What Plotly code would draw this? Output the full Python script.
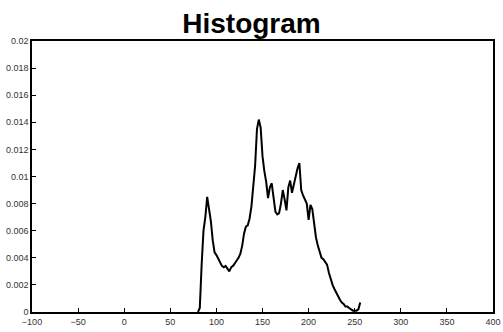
import plotly.graph_objects as go

bin_x = list(range(80, 258, 2))
density = [
    0.0000, 0.0003, 0.0035, 0.0060, 0.0070, 0.0085, 0.0076, 0.0067, 0.0053, 0.0044,
    0.0042, 0.0039, 0.0037, 0.0034, 0.0033, 0.0034, 0.0032, 0.0030, 0.0033, 0.0034,
    0.0036, 0.0038, 0.0040, 0.0043, 0.0049, 0.0058, 0.0063, 0.0064, 0.0069, 0.0078,
    0.0091, 0.0108, 0.0135, 0.0142, 0.0136, 0.0115, 0.0104, 0.0096, 0.0084, 0.0092,
    0.0095, 0.0086, 0.0074, 0.0072, 0.0073, 0.0080, 0.0090, 0.0083, 0.0075, 0.0092,
    0.0097, 0.0088, 0.0094, 0.0101, 0.0106, 0.0110, 0.0090, 0.0086, 0.0083, 0.0080,
    0.0068, 0.0079, 0.0076, 0.0063, 0.0055, 0.0049, 0.0044, 0.0040, 0.0039, 0.0037,
    0.0035, 0.0029, 0.0024, 0.0020, 0.0017, 0.0014, 0.0011, 0.0009, 0.0007, 0.0006,
    0.0004, 0.0004, 0.0003, 0.0002, 0.0001, 0.0001, 0.0001, 0.0002, 0.0007,
]

x_ticks = [-100, -50, 0, 50, 100, 150, 200, 250, 300, 350, 400]
y_ticks = [0, 0.002, 0.004, 0.006, 0.008, 0.01, 0.012, 0.014, 0.016, 0.018, 0.02]
y_tick_text = ["0", "0.002", "0.004", "0.006", "0.008", "0.01", "0.012", "0.014", "0.016", "0.018", "0.02"]

fig = go.Figure(go.Scatter(
    x=bin_x, y=density, mode="lines",
    line=dict(color="black", width=2),
    showlegend=False,
))

axis_common = dict(
    showline=True, mirror=True, linecolor="black", linewidth=1.5,
    ticks="inside", ticklen=4, tickcolor="black", tickwidth=1,
    showgrid=False, zeroline=False, automargin=False,
    tickfont=dict(family="Liberation Sans", size=9, color="#333333"),
)

fig.update_layout(
    width=503, height=332,
    margin=dict(l=32, r=10, t=41, b=20),
    paper_bgcolor="white", plot_bgcolor="white",
    title=dict(text="<b>Histogram</b>", x=0.5, xanchor="center", y=0.93, yanchor="middle",
               font=dict(family="Liberation Sans", size=28, color="black")),
    xaxis=dict(range=[-100, 400], tickvals=x_ticks, **axis_common),
    yaxis=dict(range=[0, 0.02], tickvals=y_ticks, ticktext=y_tick_text, **axis_common),
)

fig.write_html("out.html", config={"displayModeBar": False},
               post_script="document.body.style.margin='0px';")
